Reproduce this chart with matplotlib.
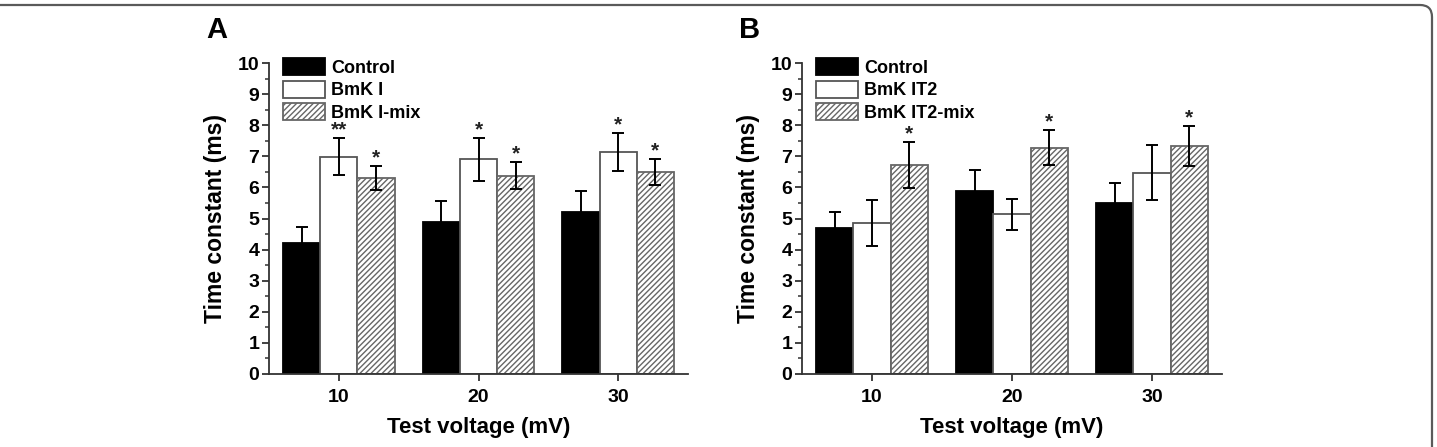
import matplotlib
matplotlib.use("Agg")
import matplotlib.pyplot as plt
from matplotlib.patches import FancyBboxPatch
from matplotlib.transforms import IdentityTransform
import numpy as np

plt.rcParams['font.family'] = ['Liberation Sans', 'DejaVu Sans']
plt.rcParams['font.weight'] = 'bold'
plt.rcParams['hatch.linewidth'] = 1.0

# Datos
voltajes = [10, 20, 30]

control_a = [4.22, 4.90, 5.20]
control_a_err = [0.50, 0.66, 0.70]
bmk1 = [6.99, 6.90, 7.13]
bmk1_err = [0.60, 0.68, 0.61]
bmk1_mix = [6.31, 6.38, 6.49]
bmk1_mix_err = [0.38, 0.43, 0.42]
estrellas_a = [["", "**", "*"], ["", "*", "*"], ["", "*", "*"]]

control_b = [4.68, 5.89, 5.49]
control_b_err = [0.54, 0.67, 0.66]
bmk_it2 = [4.87, 5.13, 6.47]
bmk_it2_err = [0.74, 0.51, 0.89]
bmk_it2_mix = [6.72, 7.28, 7.33]
bmk_it2_mix_err = [0.73, 0.57, 0.65]
estrellas_b = [["", "", "*"], ["", "", "*"], ["", "", "*"]]

W, H = 1437, 447
fig = plt.figure(figsize=(W / 100, H / 100), dpi=100)

ancho = 2.67
estilos = [
    dict(color='black', edgecolor='black'),
    dict(color='white', edgecolor='#555555'),
    dict(color='white', edgecolor='#666666', hatch='//////'),
]


def panel(rect, letra, series, errores, nombres, estrellas):
    ax = fig.add_axes(rect)
    x = np.array(voltajes)
    for i, (vals, errs, est) in enumerate(zip(series, errores, estilos)):
        pos = x + (i - 1) * ancho
        ax.bar(pos, vals, width=ancho, linewidth=1.3, label=nombres[i], zorder=2, **est)
        ax.errorbar(pos, vals, yerr=errs, fmt='none', ecolor='black',
                    elinewidth=1.4, capsize=4, capthick=1.4, zorder=3)
        for j in range(len(vals)):
            s = estrellas[j][i]
            if s:
                ax.text(pos[j], vals[j] + errs[j] - 0.05, s, ha='center', va='bottom',
                        fontsize=15, fontweight='bold', color='#222222')
    ax.set_xlim(5, 35)
    ax.set_ylim(0, 10)
    ax.set_xticks(voltajes)
    ax.set_yticks(range(0, 11))
    ax.set_yticks(np.arange(0.5, 10, 1), minor=True)
    ax.spines['top'].set_visible(False)
    ax.spines['right'].set_visible(False)
    for s in ['left', 'bottom']:
        ax.spines[s].set_linewidth(1.3)
        ax.spines[s].set_color('#333333')
    ax.tick_params(axis='both', which='major', length=5, width=1.3, labelsize=14, pad=2,
                   color='#333333')
    ax.tick_params(axis='y', which='minor', length=3, width=1.1, color='#333333')
    ax.tick_params(axis='x', pad=6)
    for lbl in ax.get_xticklabels() + ax.get_yticklabels():
        lbl.set_fontweight('bold')
    ax.set_xlabel('Test voltage (mV)', fontsize=16, fontweight='bold', labelpad=8)
    ax.set_ylabel('Time constant (ms)', fontsize=16.5, fontweight='bold', labelpad=8)
    ax.legend(loc='upper left', bbox_to_anchor=(0.034, 1.015), frameon=False,
              fontsize=13, handlelength=2.3, handleheight=1.05, handletextpad=0.35,
              labelspacing=0.22, borderaxespad=0, borderpad=0)
    ax.text(-0.15, 1.06, letra, transform=ax.transAxes, fontsize=21, fontweight='bold',
            ha='left', va='bottom')
    return ax


panel([269 / W, 1 - 374 / H, 419 / W, 311 / H], 'A',
      [control_a, bmk1, bmk1_mix], [control_a_err, bmk1_err, bmk1_mix_err],
      ['Control', 'BmK I', 'BmK I-mix'], estrellas_a)
panel([802 / W, 1 - 374 / H, 420 / W, 311 / H], 'B',
      [control_b, bmk_it2, bmk_it2_mix], [control_b_err, bmk_it2_err, bmk_it2_mix_err],
      ['Control', 'BmK IT2', 'BmK IT2-mix'], estrellas_b)

# Marco redondeado del panel
marco = FancyBboxPatch((-60, -60), 1432 + 60, (H - 5) + 60,
                       boxstyle="round,pad=0,rounding_size=12",
                       transform=IdentityTransform(), facecolor='none',
                       edgecolor='#5a5a5a', linewidth=1.6, clip_on=False)
fig.patches.append(marco)

fig.savefig('out.png', dpi=100)
